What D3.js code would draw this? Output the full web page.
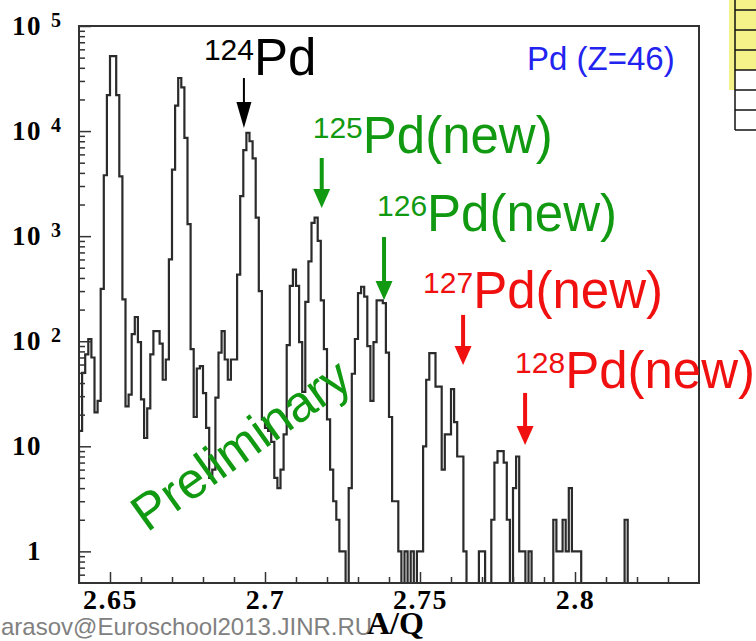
<!DOCTYPE html>
<html lang="en">
<head>
    <meta charset="UTF-8">
    <script src="https://d3js.org/d3.v7.min.js" charset="utf-8"></script>
    <title>Pd A/Q spectrum</title>
    <style>
        body { margin: 0; background: white; }
        svg { display: block; }
        .tick-label { font-family: "Liberation Serif", "Times New Roman", serif; font-weight: bold; }
        .note { font-family: "Liberation Sans", Arial, sans-serif; }
    </style>
</head>
<body>
<div class="chart"></div>

<script>
    // A/Q histogram, 0.001 wide bins starting at 2.640
    const binStart = 2.64;
    const binWidth = 0.001;
    const counts = [
        14, 50, 75, 105, 70, 21, 27, 315, 3800, 22000,
        51700, 51700, 22000, 3700, 250, 24, 31, 117, 170, 98,
        28, 12, 23, 75, 125, 125, 95, 43, 67, 600,
        4300, 17500, 32000, 26000, 8600, 1300, 84, 19, 55, 58,
        32, 15, 5, 6, 29, 78, 125, 67, 43, 67,
        67, 430, 2400, 6600, 9600, 8000, 5500, 1500, 300, 18,
        15, 14, 11, 5, 4, 6, 13, 92, 336, 480,
        336, 98, 33, 237, 575, 1340, 1500, 900, 245, 84,
        18, 6, 3, 2, 1, 1, 0, 4, 49, 105,
        287, 330, 266, 90, 27, 98, 245, 245, 230, 78,
        19, 3, 3, 1, 0, 1, 0, 1, 0, 1,
        1, 10, 43, 77, 77, 37, 37, 6, 13, 13,
        35, 17, 8, 8, 1, 0, 0, 0, 0, 1,
        1, 0, 0, 2, 7, 9, 9, 7, 2, 0,
        4, 8, 1, 1, 0, 1, 0, 0, 0, 0,
        0, 0, 0, 2, 1, 1, 2, 1, 4, 1,
        1, 1, 0, 0, 0, 0, 0, 0, 0, 0,
        0, 0, 0, 0, 0, 0, 2, 0, 0, 0,
        0, 0, 0, 0, 0, 0, 0, 0, 0, 0,
        0, 0, 0, 0, 0, 0, 0, 0, 0, 0
    ];

    const xMajorTicks = [2.65, 2.7, 2.75, 2.8];
    const xTickLabels = ["2.65", "2.7", "2.75", "2.8"];
    const yExponents = [0, 1, 2, 3, 4, 5];

    // isotope markers: mass number, label, arrow position (A/Q) and arrow span in counts
    const massNumbers = ["124", "125", "126", "127", "128"];
    const markerText = ["Pd", "Pd(new)", "Pd(new)", "Pd(new)", "Pd(new)"];
    const arrowAQ = [2.6932, 2.7183, 2.7384, 2.7639, 2.7839];
    const arrowTipCounts = [10700, 1855, 247, 59.5, 10.3];
    const arrowTopCounts = [32000, 5546, 982, 178, 32.2];

    const elementLabel = "Pd (Z=46)";
    const xTitle = "A/Q";
    const stampText = "Preliminary";
    const creditText = "arasov@Euroschool2013.JINR.RU";

    // styling / layout
    const width = 756, height = 641;
    const frame = {left: 79, top: 26, right: 699, bottom: 583};
    const green = "#119a11", red = "#f01010";
    const markerColors = ["#000000", green, green, red, red];
    const labelDx = [-40, -9, -7, -40, -10];   // label start relative to arrow
    const labelDy = [-3, -5, -6, -7, -5];      // label baseline relative to arrow top

    const svg = d3.select(".chart").append("svg")
        .attr("width", width)
        .attr("height", height);

    const x = d3.scaleLinear()
        .domain([binStart, binStart + counts.length * binWidth])
        .range([frame.left, frame.right]);
    const y = d3.scaleLog()
        .domain([0.5, 1e5])
        .range([frame.bottom, frame.top]);

    // corner of a nuclide chart peeking in at the top right
    const cellEdges = [0, 10, 30, 50, 70, 90, 110, 130];
    const corner = svg.append("g");
    corner.append("rect").attr("x", 729).attr("y", 0).attr("width", 27).attr("height", 90).attr("fill", "#f6f28a");
    corner.append("rect").attr("x", 735).attr("y", 70).attr("width", 21).attr("height", 60).attr("fill", "white");
    corner.append("line").attr("x1", 735).attr("x2", 735).attr("y1", 0).attr("y2", 130)
        .attr("stroke", "#111").attr("stroke-width", 1.5);
    corner.selectAll(".row").data(cellEdges.slice(1)).enter().append("line")
        .attr("x1", 735).attr("x2", 756).attr("y1", d => d).attr("y2", d => d)
        .attr("stroke", "#111").attr("stroke-width", 1.5);

    // credit line under the plot
    svg.append("text")
        .attr("class", "note")
        .attr("x", 1).attr("y", 635)
        .attr("font-size", 24)
        .attr("fill", "#808080")
        .text(creditText);

    // clip for the histogram
    svg.append("clipPath").attr("id", "plot-clip")
        .append("rect")
        .attr("x", frame.left).attr("y", frame.top)
        .attr("width", frame.right - frame.left).attr("height", frame.bottom - frame.top);

    const pts = [[binStart, 0]].concat(counts.map((c, i) => [binStart + i * binWidth, c]));
    pts.push([binStart + counts.length * binWidth, counts[counts.length - 1]]);

    const histLine = d3.line()
        .x(d => x(d[0]))
        .y(d => d[1] > 0 ? y(d[1]) : frame.bottom)
        .curve(d3.curveStepAfter);

    svg.append("path")
        .datum(pts)
        .attr("clip-path", "url(#plot-clip)")
        .attr("d", histLine)
        .attr("fill", "none")
        .attr("stroke", "#2b2b2b")
        .attr("stroke-width", 2.2);

    // axes: ticks point into the frame
    const xMinor = d3.range(1, 20).map(i => +(binStart + i * 0.01).toFixed(2))
        .filter(v => !xMajorTicks.includes(v));

    const xAxis = svg.append("g")
        .attr("transform", `translate(0,${frame.bottom})`)
        .call(d3.axisBottom(x).tickValues(xMajorTicks).tickSizeInner(-11).tickSizeOuter(0)
            .tickPadding(6).tickFormat((d, i) => xTickLabels[i]));
    svg.append("g")
        .attr("transform", `translate(0,${frame.bottom})`)
        .call(d3.axisBottom(x).tickValues(xMinor).tickSizeInner(-6).tickSizeOuter(0).tickFormat(""));

    const yMinor = [];
    for (let e = -1; e < 5; e++) {
        for (let m = 2; m < 10; m++) {
            const v = m * Math.pow(10, e);
            if (v > 0.5) yMinor.push(v);
        }
    }
    svg.append("g")
        .attr("transform", `translate(${frame.left},0)`)
        .call(d3.axisLeft(y).tickValues(yExponents.map(e => Math.pow(10, e))).tickSizeInner(-12)
            .tickSizeOuter(0).tickFormat(""));
    svg.append("g")
        .attr("transform", `translate(${frame.left},0)`)
        .call(d3.axisLeft(y).tickValues(yMinor).tickSizeInner(-6).tickSizeOuter(0).tickFormat(""));

    svg.selectAll(".domain").remove();
    svg.selectAll(".tick line").attr("stroke", "#333").attr("stroke-width", 1.5);

    xAxis.selectAll("text")
        .attr("class", "tick-label")
        .attr("font-size", 28)
        .attr("letter-spacing", 1.5)
        .attr("fill", "black");

    // y labels with exponents
    yExponents.forEach(e => {
        const ty = y(Math.pow(10, e));
        const base = e === 0 ? "1" : "10";
        svg.append("text")
            .attr("class", "tick-label")
            .attr("x", 42).attr("y", ty + 9)
            .attr("text-anchor", "end")
            .attr("font-size", 27)
            .attr("letter-spacing", 1.5)
            .text(base);
        if (e > 1) {
            svg.append("text")
                .attr("class", "tick-label")
                .attr("x", 51).attr("y", ty + 1)
                .attr("font-size", 20)
                .text(e);
        }
    });

    // frame
    svg.append("rect")
        .attr("x", frame.left).attr("y", frame.top)
        .attr("width", frame.right - frame.left).attr("height", frame.bottom - frame.top)
        .attr("fill", "none")
        .attr("stroke", "#333")
        .attr("stroke-width", 2);

    // axis title
    svg.append("text")
        .attr("class", "tick-label")
        .attr("x", 367).attr("y", 634)
        .attr("font-size", 32)
        .text(xTitle);

    // element tag
    svg.append("text")
        .attr("class", "note")
        .attr("x", 527).attr("y", 70)
        .attr("font-size", 33)
        .attr("fill", "#2323f0")
        .text(elementLabel);

    // preliminary stamp
    svg.append("text")
        .attr("class", "note")
        .attr("transform", "translate(147,533) rotate(-35.5)")
        .attr("font-size", 51)
        .attr("fill", green)
        .text(stampText);

    // isotope arrows and labels
    massNumbers.forEach((m, i) => {
        const ax = x(arrowAQ[i]);
        const yTip = y(arrowTipCounts[i]);
        const yTop = y(arrowTopCounts[i]);
        const col = markerColors[i];
        const thin = i === 0;
        const headH = thin ? 26 : 19;
        const headW = thin ? 15 : 17;

        svg.append("line")
            .attr("x1", ax).attr("x2", ax)
            .attr("y1", yTop).attr("y2", yTip - headH + 2)
            .attr("stroke", col)
            .attr("stroke-width", thin ? 2 : 4);
        svg.append("path")
            .attr("d", `M${ax - headW / 2},${yTip - headH}L${ax + headW / 2},${yTip - headH}L${ax},${yTip}Z`)
            .attr("fill", col);

        const lbl = svg.append("text")
            .attr("class", "note")
            .attr("x", ax + labelDx[i])
            .attr("y", yTop + labelDy[i])
            .attr("fill", col);
        lbl.append("tspan")
            .attr("font-size", 30)
            .attr("dy", -15)
            .text(m);
        lbl.append("tspan")
            .attr("font-size", 51)
            .attr("dy", 15)
            .text(markerText[i]);
    });
</script>
</body>
</html>
